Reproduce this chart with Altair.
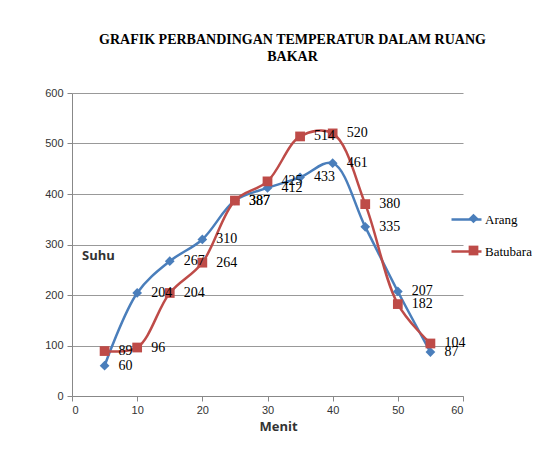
import altair as alt
import pandas as pd

menit = [5, 10, 15, 20, 25, 30, 35, 40, 45, 50, 55]
arang = [60, 204, 267, 310, 387, 412, 433, 461, 335, 207, 87]
batubara = [89, 96, 204, 264, 387, 425, 514, 520, 380, 182, 104]
series = ["Arang", "Batubara"]
colors = ["#4A7EBB", "#BE4B48"]

rows = []
for m, a, b in zip(menit, arang, batubara):
    rows.append({"Menit": m, "Suhu": a, "Seri": "Arang"})
    rows.append({"Menit": m, "Suhu": b, "Seri": "Batubara"})
df = pd.DataFrame(rows)

W, H = 391, 303

xenc = alt.X("Menit:Q", scale=alt.Scale(domain=[0, 60], nice=False),
             axis=alt.Axis(values=[0, 10, 20, 30, 40, 50, 60], grid=False, title="Menit",
                           titleFont="Open Sans", titleFontWeight="bold", titleFontSize=13,
                           titlePadding=5, titleX=206, titleColor="#333333",
                           labelFont="Liberation Sans", labelFontSize=11, labelColor="#333333",
                           domainColor="#888888", tickColor="#888888", tickSize=5, labelPadding=3))
yenc = alt.Y("Suhu:Q", scale=alt.Scale(domain=[0, 600], nice=False),
             axis=alt.Axis(values=[0, 100, 200, 300, 400, 500, 600], title="Suhu",
                           titleAngle=0, titleX=26, titleY=162, titleAlign="center",
                           titleBaseline="middle",
                           titleFont="Open Sans", titleFontWeight="bold", titleFontSize=13,
                           titleColor="#333333",
                           labelFont="Liberation Sans", labelFontSize=11, labelColor="#333333",
                           domainColor="#888888", tickColor="#888888", tickSize=5,
                           gridColor="#999999", gridWidth=1, labelPadding=4))

color_scale = alt.Scale(domain=series, range=colors)
shape_scale = alt.Scale(domain=series, range=["diamond", "square"])

# legend of the lines (line segment + labels)
legend_line = alt.Legend(
    title=None, orient="none", legendX=378, legendY=110, padding=0,
    symbolType="stroke", symbolSize=900, symbolStrokeWidth=2.5,
    labelFont="Liberation Serif", labelFontSize=13, labelColor="#000000",
    rowPadding=8, labelOffset=2,
)
# legend of the markers, laid exactly over the line legend (no labels)
legend_mark = alt.Legend(
    title=None, orient="none", legendX=395, legendY=119, padding=0,
    symbolSize=95, symbolOpacity=1,
    labelFont="Liberation Serif", labelFontSize=13, labelExpr="''",
    rowPadding=15, labelOffset=2,
)

base = alt.Chart(df)

lines = base.mark_line(interpolate="catmull-rom", strokeWidth=2.5).encode(
    x=xenc, y=yenc,
    color=alt.Color("Seri:N", scale=color_scale, legend=legend_line),
)

points = base.mark_point(filled=True, size=95, opacity=1).encode(
    x="Menit:Q", y="Suhu:Q",
    color=alt.Color("Seri:N", scale=color_scale, legend=legend_mark),
    shape=alt.Shape("Seri:N", scale=shape_scale, legend=legend_mark),
)

labels = base.mark_text(align="left", baseline="middle", dx=14, font="Liberation Serif",
                        fontSize=14, color="#000000").encode(
    x="Menit:Q", y="Suhu:Q", text="Suhu:Q",
)

chart = alt.layer(lines, points, labels).resolve_legend(
    color="independent", shape="independent"
).properties(
    width=W, height=H,
    title=alt.TitleParams(
        text=["GRAFIK PERBANDINGAN TEMPERATUR DALAM RUANG", "BAKAR"],
        font="Liberation Serif", fontSize=14, fontWeight="bold", color="#000000",
        anchor="middle", dx=25, offset=23, lineHeight=17,
    ),
    padding={"left": 64, "top": 85, "right": 86, "bottom": 56},
    autosize=alt.AutoSizeParams(type="none"),
).configure_view(stroke=None)

chart.save("out.html", embed_options={"renderer": "svg", "actions": False})
